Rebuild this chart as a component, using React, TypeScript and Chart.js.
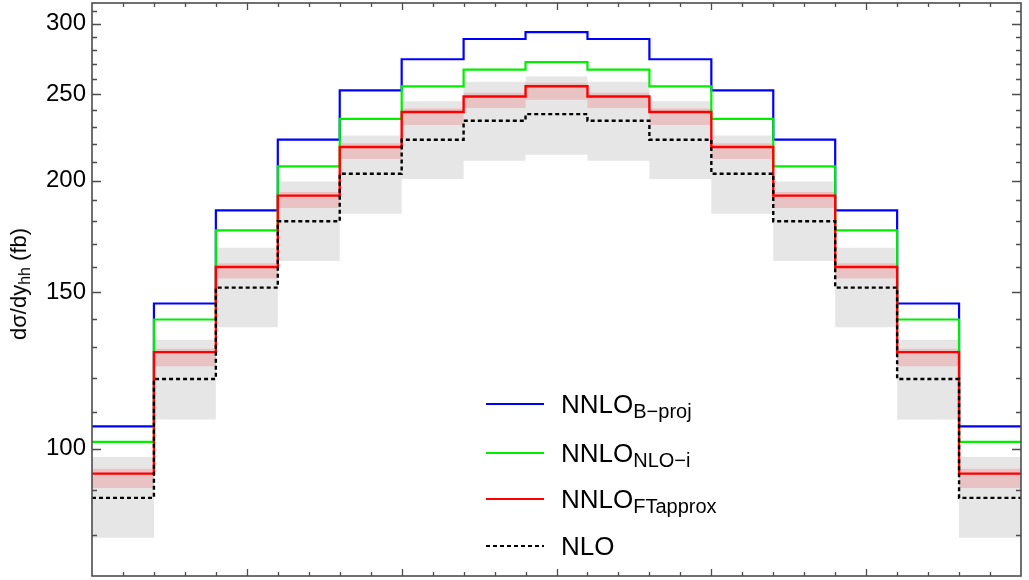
import { useEffect, useRef } from 'react';
import { Chart, registerables } from 'chart.js';

Chart.register(...registerables);

// Rapidity bin edges of y_hh (15 bins of width 0.4)
const binEdges = [-3, -2.6, -2.2, -1.8, -1.4, -1, -0.6, -0.2, 0.2, 0.6, 1, 1.4, 1.8, 2.2, 2.6, 3];

// dσ/dy_hh per bin, in fb
const nnloBProj = [106.0, 145.6, 185.2, 222.3, 252.5, 273.7, 288.4, 293.5, 288.4, 273.7, 252.5, 222.3, 185.2, 145.6, 106.0];
const nnloNloI = [101.8, 139.7, 175.9, 207.5, 234.6, 255.2, 266.4, 271.6, 266.4, 255.2, 234.6, 207.5, 175.9, 139.7, 101.8];
const nnloFTapprox = [93.8, 128.4, 160.0, 192.4, 218.2, 238.8, 248.6, 255.2, 248.6, 238.8, 218.2, 192.4, 160.0, 128.4, 93.8];
const nnloFTapproxUp = [95.0, 129.5, 161.5, 194.2, 220.3, 241.0, 251.0, 257.6, 251.0, 241.0, 220.3, 194.2, 161.5, 129.5, 95.0];
const nnloFTapproxDown = [90.4, 123.8, 155.3, 186.4, 211.5, 230.9, 241.3, 246.5, 241.3, 230.9, 211.5, 186.4, 155.3, 123.8, 90.4];
const nlo = [88.1, 119.8, 151.7, 180.1, 203.6, 222.3, 233.5, 237.5, 233.5, 222.3, 203.6, 180.1, 151.7, 119.8, 88.1];
const nloUp = [97.9, 132.6, 168.1, 199.6, 224.7, 245.5, 258.3, 261.8, 258.3, 245.5, 224.7, 199.6, 168.1, 132.6, 97.9];
const nloDown = [79.5, 107.9, 136.9, 162.5, 183.6, 200.8, 210.6, 213.9, 210.6, 200.8, 183.6, 162.5, 136.9, 107.9, 79.5];

// Axis ticks
const yTickValues = [80, 90, 100, 110, 120, 130, 140, 150, 160, 170, 180, 190, 200, 210, 220, 230, 240, 250, 260, 270, 280, 290, 300, 310];
const yLabelled = [100, 150, 200, 250, 300];
const xTickValues = [-2.8, -2.6, -2.4, -2.2, -2, -1.8, -1.6, -1.4, -1.2, -1, -0.8, -0.6, -0.4, -0.2, 0, 0.2, 0.4, 0.6, 0.8, 1, 1.2, 1.4, 1.6, 1.8, 2, 2.2, 2.4, 2.6, 2.8];
const xMajor = [-2, -1, 0, 1, 2];

const FONT = '"Liberation Sans", Arial, Helvetica, sans-serif';
const FRAME = '#4d4d4d';

// Each bin value is held from its left edge to the next edge
function steps(values: number[]) {
  return binEdges.map((x, i) => ({ x, y: values[Math.min(i, values.length - 1)] }));
}

// Inward ticks on all four sides plus the frame
const frameTicks = {
  id: 'frameTicks',
  afterDatasetsDraw(chart: any) {
    const { ctx, chartArea: a, scales } = chart;
    const xs = scales.x;
    const ys = scales.y;
    ctx.save();
    ctx.strokeStyle = FRAME;
    ctx.lineWidth = 1.3;
    ctx.beginPath();
    for (const v of yTickValues) {
      const py = Math.round(ys.getPixelForValue(v)) + 0.5;
      const len = yLabelled.includes(v) ? 9 : 5;
      ctx.moveTo(a.left, py);
      ctx.lineTo(a.left + len, py);
      ctx.moveTo(a.right, py);
      ctx.lineTo(a.right - len, py);
    }
    for (const v of xTickValues) {
      const px = Math.round(xs.getPixelForValue(v)) + 0.5;
      const len = xMajor.includes(v) ? 7 : 4;
      ctx.moveTo(px, a.bottom);
      ctx.lineTo(px, a.bottom - len);
      ctx.moveTo(px, a.top);
      ctx.lineTo(px, a.top + len);
    }
    ctx.stroke();
    ctx.lineWidth = 1.6;
    ctx.strokeRect(a.left, a.top, a.right - a.left, a.bottom - a.top);
    ctx.restore();
  },
};

const legendItems = [
  { label: 'NNLO', sub: 'B\u2212proj', color: '#0000ff', dashed: false, y: 404 },
  { label: 'NNLO', sub: 'NLO\u2212i', color: '#00ee00', dashed: false, y: 452.5 },
  { label: 'NNLO', sub: 'FTapprox', color: '#ff0000', dashed: false, y: 498.5 },
  { label: 'NLO', sub: '', color: '#000000', dashed: true, y: 546 },
];

export default function App() {
  const canvasRef = useRef<HTMLCanvasElement | null>(null);

  useEffect(() => {
    const canvas = canvasRef.current;
    if (!canvas) return;
    const hidden = { borderWidth: 0, borderColor: 'rgba(0,0,0,0)', pointRadius: 0, fill: false };
    const chart = new Chart(canvas, {
      type: 'line',
      data: {
        datasets: [
          { ...hidden, label: 'NLO low', data: steps(nloDown), stepped: 'before', order: 7 },
          {
            ...hidden,
            label: 'NLO band',
            data: steps(nloUp),
            stepped: 'before',
            fill: '-1',
            backgroundColor: '#e6e6e6',
            order: 6,
          },
          { ...hidden, label: 'FT low', data: steps(nnloFTapproxDown), stepped: 'before', order: 5 },
          {
            ...hidden,
            label: 'FT band',
            data: steps(nnloFTapproxUp),
            stepped: 'before',
            fill: '-1',
            backgroundColor: '#e9c3c3',
            order: 4,
          },
          {
            label: 'NNLO B-proj',
            data: steps(nnloBProj),
            stepped: 'before',
            borderColor: '#0000ff',
            borderWidth: 2.2,
            pointRadius: 0,
            fill: false,
            order: 3,
          },
          {
            label: 'NNLO NLO-i',
            data: steps(nnloNloI),
            stepped: 'before',
            borderColor: '#00ee00',
            borderWidth: 2.2,
            pointRadius: 0,
            fill: false,
            order: 2,
          },
          {
            label: 'NNLO FTapprox',
            data: steps(nnloFTapprox),
            stepped: 'before',
            borderColor: '#ff0000',
            borderWidth: 2.4,
            pointRadius: 0,
            fill: false,
            order: 1,
          },
          {
            label: 'NLO',
            data: steps(nlo),
            stepped: 'before',
            borderColor: '#000000',
            borderWidth: 2.4,
            borderDash: [4, 3],
            pointRadius: 0,
            fill: false,
            order: 0,
          },
        ],
      },
      options: {
        animation: false,
        responsive: false,
        maintainAspectRatio: false,
        layout: { padding: { left: 0, right: 8, top: 3, bottom: 4 } },
        plugins: {
          legend: { display: false },
          tooltip: { enabled: false },
          title: { display: false },
        },
        scales: {
          x: { type: 'linear', min: -3, max: 3, display: false },
          y: {
            type: 'logarithmic',
            min: 72,
            max: 316.5,
            grid: { display: false, drawTicks: false },
            border: { display: false },
            afterBuildTicks: (scale: any) => {
              scale.ticks = yTickValues.map((v) => ({ value: v }));
            },
            afterFit: (scale: any) => {
              scale.width = 92;
              scale.paddingTop = 0;
              scale.paddingBottom = 0;
            },
            ticks: {
              autoSkip: false,
              padding: 6,
              color: '#000',
              font: { family: FONT, size: 24 },
              callback: (value: any) => (yLabelled.includes(Number(value)) ? String(value) : ''),
            },
          },
        },
      },
      plugins: [frameTicks],
    });
    return () => chart.destroy();
  }, []);

  return (
    <div style={{ position: 'absolute', left: 0, top: 0, width: 1029, height: 580, background: '#fff', fontFamily: FONT }}>
      <canvas ref={canvasRef} width={1029} height={580} style={{ width: 1029, height: 580, display: 'block' }} />
      <div
        style={{
          position: 'absolute',
          left: 20,
          top: 284,
          transform: 'translate(-50%, -50%) rotate(-90deg)',
          whiteSpace: 'nowrap',
          fontSize: 22,
          lineHeight: '24px',
          color: '#000',
        }}
      >
        d{'\u03c3'}/dy<span style={{ fontSize: 16, position: 'relative', top: 4 }}>hh</span> (fb)
      </div>
      {legendItems.map((it) => (
        <div key={it.sub || it.label}>
          <div
            style={{
              position: 'absolute',
              left: 486,
              top: it.y - 1,
              width: 58,
              height: it.dashed ? 2.4 : 2,
              background: it.dashed
                ? 'repeating-linear-gradient(90deg, #000 0 4px, transparent 4px 7px)'
                : it.color,
            }}
          />
          <div
            style={{
              position: 'absolute',
              left: 561,
              top: it.y - 13,
              whiteSpace: 'nowrap',
              fontSize: 26,
              lineHeight: '26px',
              color: '#000',
            }}
          >
            {it.label}
            {it.sub ? (
              <span style={{ fontSize: 20, position: 'relative', top: 5, lineHeight: 0 }}>{it.sub}</span>
            ) : null}
          </div>
        </div>
      ))}
    </div>
  );
}
